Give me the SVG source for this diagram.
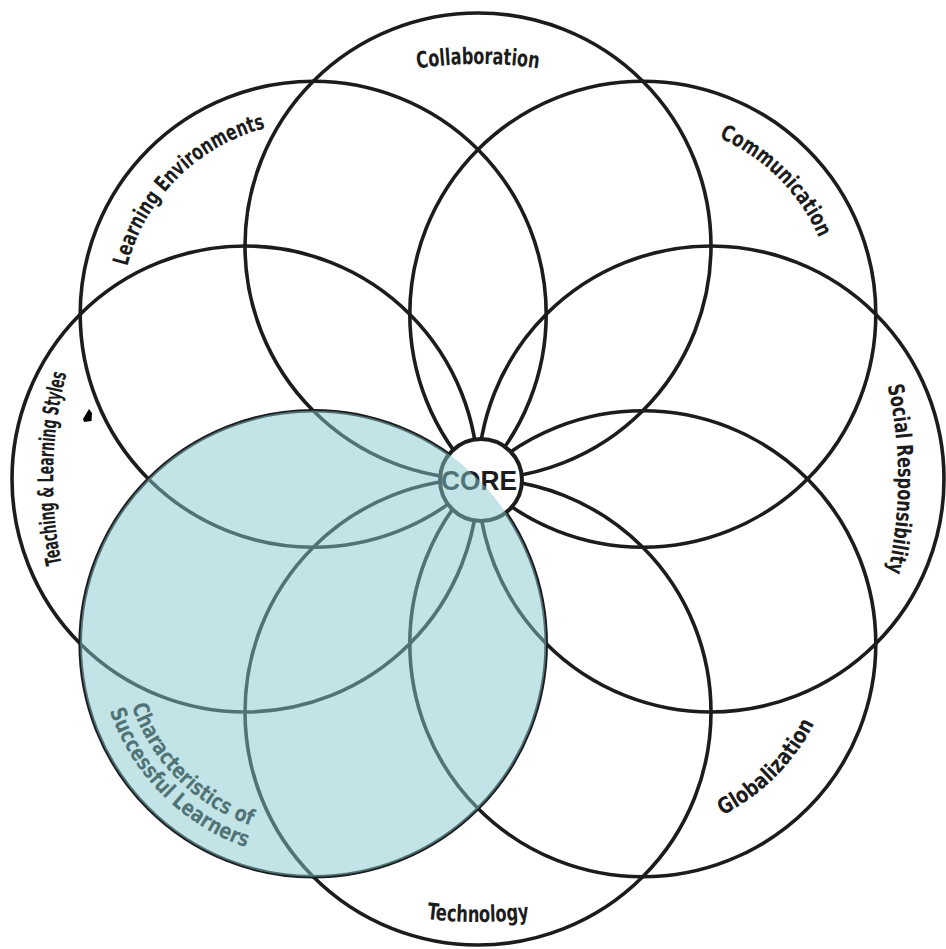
<svg xmlns="http://www.w3.org/2000/svg" width="946" height="949" viewBox="0 0 946 949">
<style>
.ring{fill:none;stroke:#1c1c1c;stroke-width:3.6}
.lbl{font-family:"Liberation Sans Narrow","DejaVu Sans Condensed","Arial Narrow",sans-serif;font-weight:bold;font-size:22px;fill:#1c1c1c}
.big{font-size:23px}
.core-t{font-family:"Liberation Sans","Arial",sans-serif;font-weight:bold;font-size:27px;fill:#1c1c1c}
</style>
<defs>
<path id="pCollab" d="M63 479 A415 415 0 0 1 893 479"/>
<path id="pTech" d="M35 479 A443 443 0 0 0 921 479"/>
<path id="pTeach" d="M478 904 A425 425 0 0 1 478 54"/>
<path id="pSocial" d="M478 59 A420 420 0 0 1 478 899"/>
<path id="pLearn" d="M177.4 450 A192 192 0 0 1 449 178.4"/>
<path id="pComm" d="M507 178.4 A192 192 0 0 1 778.6 450"/>
<path id="pGlob" d="M496.4 790.2 A208 208 0 0 0 789.2 497.4"/>
<path id="pChar1" d="M177.4 508 A192 192 0 0 0 449 779.6"/>
<path id="pChar2" d="M157.7 488.3 A220 220 0 0 0 468.7 799.3"/>
</defs>
<rect width="946" height="949" fill="#ffffff"/>
<g id="n-collaboration">
<circle class="ring" cx="478" cy="246" r="233"/>
<text class="lbl big"><textPath href="#pCollab" startOffset="50%" text-anchor="middle" textLength="122" lengthAdjust="spacingAndGlyphs">Collaboration</textPath></text>
</g>
<g id="n-communication">
<circle class="ring" cx="642.8" cy="314.2" r="233"/>
<text class="lbl"><textPath href="#pComm" startOffset="50%" text-anchor="middle" textLength="145" lengthAdjust="spacingAndGlyphs">Communication</textPath></text>
</g>
<g id="n-social">
<circle class="ring" cx="711" cy="479" r="233"/>
<text class="lbl"><textPath href="#pSocial" startOffset="50%" text-anchor="middle" textLength="188" lengthAdjust="spacingAndGlyphs">Social Responsibility</textPath></text>
</g>
<g id="n-globalization">
<circle class="ring" cx="642.8" cy="643.8" r="233"/>
<text class="lbl"><textPath href="#pGlob" startOffset="50%" text-anchor="middle" textLength="132" lengthAdjust="spacingAndGlyphs">Globalization</textPath></text>
</g>
<g id="n-technology">
<circle class="ring" cx="478" cy="712" r="233"/>
<text class="lbl big"><textPath href="#pTech" startOffset="50%" text-anchor="middle" textLength="103" lengthAdjust="spacingAndGlyphs">Technology</textPath></text>
</g>
<g id="n-characteristics">
<circle class="ring" cx="313.2" cy="643.8" r="233"/>
<text class="lbl"><textPath href="#pChar1" startOffset="50%" text-anchor="middle" textLength="175" lengthAdjust="spacingAndGlyphs">Characteristics of</textPath></text>
<text class="lbl"><textPath href="#pChar2" startOffset="50%" text-anchor="middle" textLength="200" lengthAdjust="spacingAndGlyphs">Successful Learners</textPath></text>
</g>
<g id="n-teaching">
<circle class="ring" cx="245" cy="479" r="233"/>
<text class="lbl"><textPath href="#pTeach" startOffset="678" text-anchor="middle" textLength="192" lengthAdjust="spacingAndGlyphs">Teaching &amp; Learning Styles</textPath></text>
</g>
<g id="n-learning">
<circle class="ring" cx="313.2" cy="314.2" r="233"/>
<text class="lbl"><textPath href="#pLearn" startOffset="50%" text-anchor="middle" textLength="205" lengthAdjust="spacingAndGlyphs">Learning Environments</textPath></text>
</g>
<g id="connectors"></g>
<g id="n-core">
<circle cx="481" cy="480" r="41" fill="#ffffff" stroke="#1c1c1c" stroke-width="4"/>
<text class="core-t" x="479" y="490" text-anchor="middle" textLength="76" lengthAdjust="spacingAndGlyphs">CORE</text>
</g>
<circle id="highlight" cx="313.2" cy="643.8" r="233" fill="#86c9d0" fill-opacity="0.5"/>
<path id="mark" d="M89 409 L92 413 L91.5 421 L84 422 L83 419 Z" fill="#000000"/>
</svg>
